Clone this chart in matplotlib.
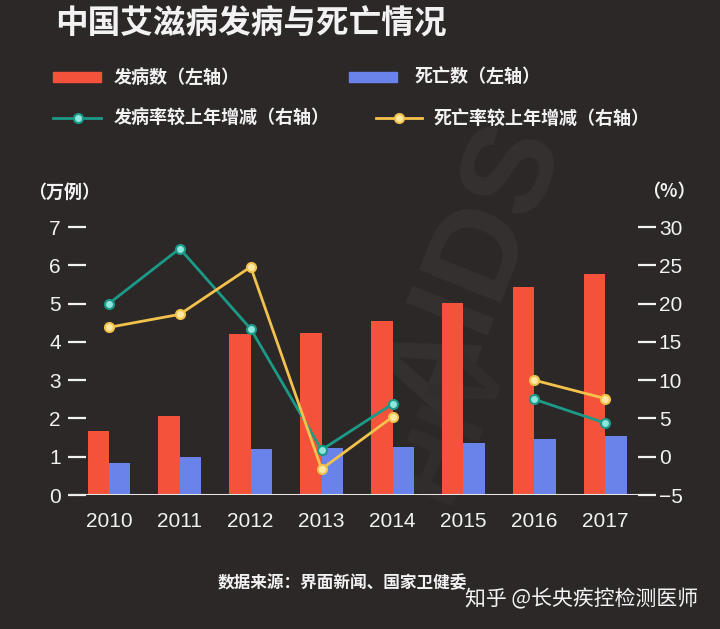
import numpy as np
import matplotlib
matplotlib.use("Agg")
import matplotlib.pyplot as plt
from matplotlib.patches import Rectangle
from matplotlib.lines import Line2D

plt.rcParams['font.family'] = ['Liberation Sans', 'Noto Sans CJK SC', 'DejaVu Sans']

years = ['2010', '2011', '2012', '2013', '2014', '2015', '2016', '2017']
cases = [1.67, 2.06, 4.20, 4.23, 4.55, 5.01, 5.43, 5.77]      # 万例
deaths = [0.83, 0.99, 1.20, 1.23, 1.25, 1.36, 1.46, 1.54]     # 万例
case_rate_change = [20.0, 27.2, 16.7, 0.9, 6.9, np.nan, 7.5, 4.4]     # %
death_rate_change = [16.9, 18.6, 24.8, -1.6, 5.2, np.nan, 10.0, 7.6]  # %

BG = '#2c2828'
RED = '#f4523a'
BLUE = '#6a83ea'
GREEN = '#1c9a88'
GREEN_FACE = '#8fe6dc'
YELLOW = '#f3c24c'
YELLOW_FACE = '#fbe8a4'
FG = '#f2f2f2'
CJK = 'Noto Sans CJK SC'

fig = plt.figure(figsize=(7.2, 6.29), dpi=100, facecolor=BG)

# faint watermark behind everything
fig.text(0.66, 0.57, 'AIDS', rotation=68, fontsize=92, fontweight='bold',
         color='#363131', ha='center', va='center', zorder=-5)
fig.text(0.63, 0.33, 'HIV', rotation=68, fontsize=70, fontweight='bold',
         color='#332e2e', ha='center', va='center', zorder=-5)

ax = fig.add_axes([0.094, 0.213, 0.792, 0.426])
ax.set_facecolor('none')
ax2 = ax.twinx()

x = np.arange(len(years))
w = 0.30
ax.bar(x - w / 2, cases, width=w, color=RED, zorder=2)
ax.bar(x + w / 2, deaths, width=w, color=BLUE, zorder=2)
ax.axhline(0, color='#e6e6e6', lw=2.2, zorder=3)

ax.set_xlim(-0.58, 7.46)
ax.set_ylim(0, 7)
ax.set_yticks(range(0, 8))
ax.set_xticks(x)
ax.set_xticklabels(years)

ax2.plot(x, case_rate_change, color=GREEN, lw=2, marker='o', ms=6.5,
         mfc=GREEN_FACE, mec=GREEN, mew=1.5, zorder=4)
ax2.plot(x, death_rate_change, color=YELLOW, lw=2, marker='o', ms=6.5,
         mfc=YELLOW_FACE, mec=YELLOW, mew=1.5, zorder=4)
ax2.set_ylim(-5, 30)
ax2.set_yticks(range(-5, 31, 5))

for a in (ax, ax2):
    for s in a.spines.values():
        s.set_visible(False)

ax.tick_params(axis='x', length=0, pad=12, labelsize=15, labelcolor=FG)
ax.tick_params(axis='y', direction='in', length=13, width=1.6, color=FG,
               pad=5, labelsize=15, labelcolor=FG)
ax2.tick_params(axis='y', direction='out', length=13, width=1.6, color=FG,
                pad=2, labelsize=15, labelcolor=FG)

# title
fig.text(0.076, 0.962, '中国艾滋病发病与死亡情况', family=CJK, fontsize=23.5,
         fontweight='bold', color=FG, ha='left', va='center')

# legend drawn manually in figure coordinates
def fy(py):
    return 1 - py / 629

def fx(px):
    return px / 720

fig.patches.append(Rectangle((fx(53), fy(82)), fx(48), 10 / 629, color=RED,
                             transform=fig.transFigure, figure=fig))
fig.patches.append(Rectangle((fx(349), fy(82)), fx(48), 10 / 629, color=BLUE,
                             transform=fig.transFigure, figure=fig))
fig.lines.append(Line2D([fx(53), fx(101)], [fy(118), fy(118)], color=GREEN, lw=2,
                        transform=fig.transFigure, figure=fig))
fig.lines.append(Line2D([fx(78)], [fy(118)], marker='o', ms=6.5, mfc=GREEN_FACE,
                        mec=GREEN, mew=1.5, transform=fig.transFigure, figure=fig))
fig.lines.append(Line2D([fx(376), fx(422)], [fy(118), fy(118)], color=YELLOW, lw=2,
                        transform=fig.transFigure, figure=fig))
fig.lines.append(Line2D([fx(399)], [fy(118)], marker='o', ms=6.5, mfc=YELLOW_FACE,
                        mec=YELLOW, mew=1.5, transform=fig.transFigure, figure=fig))

leg_kw = dict(family=CJK, fontsize=13, fontweight='bold', color=FG, va='center', ha='left')
fig.text(fx(114), fy(77), '发病数（左轴）', **leg_kw)
fig.text(fx(415), fy(77), '死亡数（左轴）', **leg_kw)
fig.text(fx(114), fy(118), '发病率较上年增减（右轴）', **leg_kw)
fig.text(fx(434), fy(118), '死亡率较上年增减（右轴）', **leg_kw)

# axis units
fig.text(fx(28), fy(192), '（万例）', family=CJK, fontsize=13, fontweight='bold',
         color=FG, ha='left', va='center')
fig.text(fx(696), fy(192), '（%）', family=CJK, fontsize=13, fontweight='bold',
         color=FG, ha='right', va='center')

# source and signature
fig.text(fx(218), fy(583), '数据来源：界面新闻、国家卫健委', family=CJK, fontsize=12,
         fontweight='bold', color=FG, ha='left', va='center')
fig.text(fx(465), fy(599), '知乎 @长央疾控检测医师', family=CJK, fontsize=15,
         color='#f5f5f5', ha='left', va='center')

fig.savefig('out.png', dpi=100, facecolor=BG)
